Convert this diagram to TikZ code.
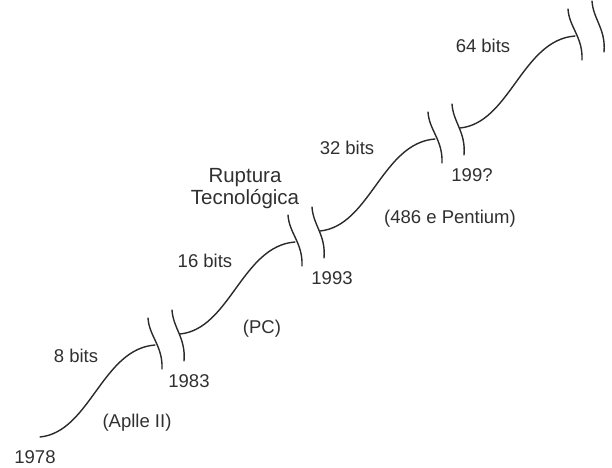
\documentclass[tikz,border=0pt]{standalone}
\usepackage{fontspec}
\setmainfont{Liberation Sans}
\definecolor{ink}{HTML}{2A2A2A}
\definecolor{txt}{HTML}{303030}
\begin{document}
\begin{tikzpicture}[x=1bp,y=-1bp,
  lbl/.style={anchor=base,inner sep=0pt,text=txt,font=\fontsize{18.5bp}{22bp}\selectfont},
  big/.style={anchor=base,inner sep=0pt,text=txt,font=\fontsize{20.5bp}{24bp}\selectfont},
  wave/.style={draw=ink,line width=1.4bp,line cap=round},
  brk/.style={draw=ink,line width=1.4bp,line cap=round}]
\useasboundingbox (0,0) rectangle (612,468);
% four S-shaped segments, each shifted by (140,-103)
\foreach \k in {0,1,2,3}{
  \begin{scope}[shift={(140*\k,-103*\k)}]
    \coordinate (s\k) at (40,437);
    \coordinate (e\k) at (155,345);
    \draw[wave] (s\k) .. controls (90,432) and (102,349) .. (e\k);
    % break marks
    \coordinate (la\k) at (148,318);
    \coordinate (lb\k) at (162,369);
    \coordinate (ra\k) at (172,310);
    \coordinate (rb\k) at (184,361);
    \draw[brk] (la\k) .. controls (149,336) and (163,346) .. (lb\k);
    \draw[brk] (ra\k) .. controls (173,328) and (186,338) .. (rb\k);
  \end{scope}
}
% labels
\node[lbl] (y78) at (35,463) {1978};
\node[lbl] (b8) at (76,362) {8 bits};
\node[lbl] (y83) at (189,387) {1983};
\node[lbl] (apl) at (137,427) {(Aplle II)};
\node[lbl] (b16) at (205,268) {16 bits};
\node[lbl] (pc) at (262,333) {(PC)};
\node[lbl] (y93) at (332,285) {1993};
\node[big] (rup1) at (245,183) {Ruptura};
\node[big] (rup2) at (245,205) {Tecnológica};
\node[lbl] (b32) at (347,155) {32 bits};
\node[lbl] (y99) at (472,182) {199?};
\node[lbl] (pent) at (450,224) {(486 e Pentium)};
\node[lbl] (b64) at (483,53) {64 bits};
\end{tikzpicture}
\end{document}
